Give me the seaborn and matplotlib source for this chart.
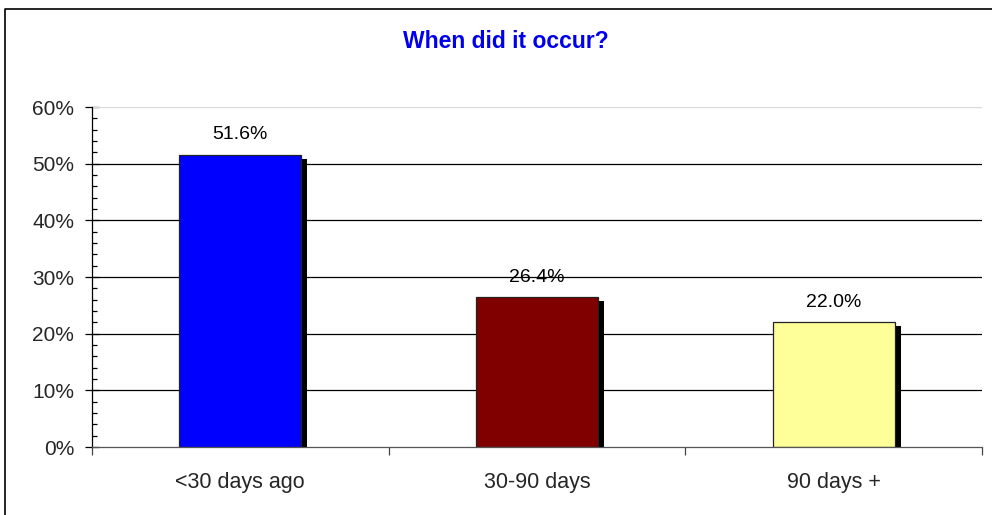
import matplotlib
matplotlib.use("Agg")
import matplotlib.pyplot as plt
import matplotlib.patheffects as pe
from matplotlib.ticker import MultipleLocator, FixedLocator, FuncFormatter
from matplotlib.lines import Line2D
import seaborn as sns
import pandas as pd

categories = ["<30 days ago", "30-90 days", "90 days +"]
shares = [51.6, 26.4, 22.0]
bar_colors = ["#0000FF", "#800000", "#FFFF99"]
title = "When did it occur?"

sns.set_theme(style="white")
plt.rcParams["font.family"] = ["Liberation Sans", "DejaVu Sans"]

df = pd.DataFrame({"when": categories, "share": shares})

fig = plt.figure(figsize=(9.92, 5.15), dpi=100)
ax = fig.add_axes([0.0927, 0.132, 0.8973, 0.66])

sns.barplot(data=df, x="when", y="share", hue="when", palette=bar_colors,
            legend=False, width=0.41, edgecolor="#222222", linewidth=0.9,
            saturation=1, ax=ax, zorder=3)

shadow = [pe.SimplePatchShadow(offset=(4.3, -2.9), shadow_rgbFace="black", alpha=1.0),
          pe.Normal()]
for p in ax.patches:
    p.set_path_effects(shadow)

for i, v in enumerate(shares):
    ax.annotate(f"{v:.1f}%", xy=(i, v), xytext=(0, 14.5), textcoords="offset points",
                ha="center", va="center", fontsize=14, color="black", zorder=5)

ax.set_xlim(-0.5, 2.5)
ax.set_ylim(0, 60)

# gridlines
for g in range(10, 60, 10):
    ax.axhline(g, color="black", linewidth=0.9, zorder=1)
ax.axhline(60, color="#d8d8d8", linewidth=0.9, zorder=1)

# y axis ticks
ax.yaxis.set_major_locator(MultipleLocator(10))
ax.yaxis.set_minor_locator(MultipleLocator(2))
ax.yaxis.set_major_formatter(FuncFormatter(lambda v, _: f"{v:.0f}%"))
ax.tick_params(axis="y", which="major", direction="inout", length=9.5, width=0.9,
               color="black", labelsize=15, pad=8, left=True)
ax.tick_params(axis="y", which="minor", direction="in", length=3.6, width=0.9,
               color="black", left=True)

# x axis: category labels, ticks at the boundaries
ax.xaxis.set_minor_locator(FixedLocator([-0.5, 0.5, 1.5, 2.5]))
ax.tick_params(axis="x", which="major", length=0, labelsize=15.5, pad=18)
ax.tick_params(axis="x", which="minor", direction="out", length=6, width=0.9,
               color="#444444", bottom=True)

ax.set_xlabel("")
ax.set_ylabel("")

for s in ["top", "right"]:
    ax.spines[s].set_visible(False)
ax.spines["left"].set_color("black")
ax.spines["left"].set_linewidth(0.9)
ax.spines["bottom"].set_color("#555555")
ax.spines["bottom"].set_linewidth(0.9)
ax.spines["left"].set_zorder(4)
ax.spines["bottom"].set_zorder(4)

fig.text(0.510, 0.92, title, ha="center", va="center", fontsize=16.5,
         fontweight="bold", color="#0000EE")

# outer frame
fig.add_artist(Line2D([0.005, 0.005, 1.0], [0.0, 0.9825, 0.9825],
                      transform=fig.transFigure, color="black", linewidth=1.2))

fig.savefig("out.png", dpi=100, facecolor="white")
